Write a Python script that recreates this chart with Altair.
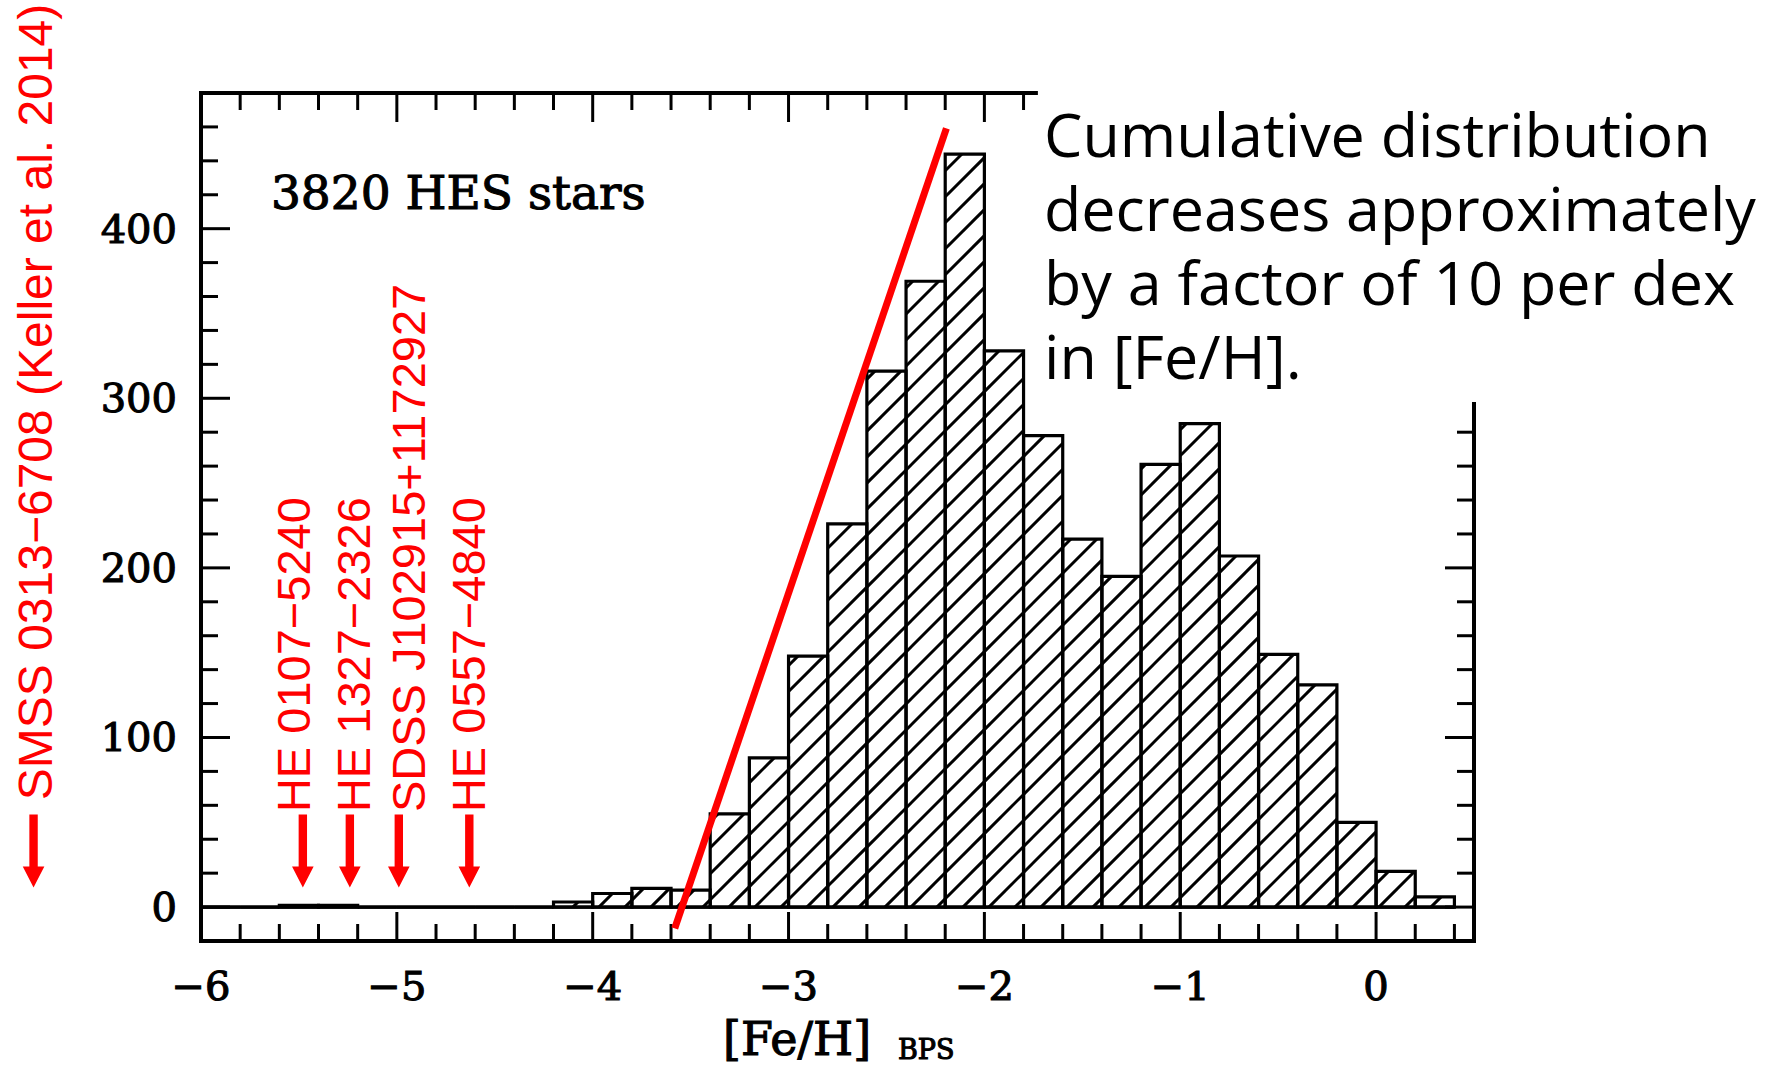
import math
import altair as alt
import pandas as pd

# ---------------------------------------------------------------------------
# Metallicity distribution of 3820 HES stars, 0.2 dex bins in [Fe/H]_BPS
# ---------------------------------------------------------------------------
bin_left = [-6.0, -5.8, -5.6, -5.4, -5.2, -5.0, -4.8, -4.6, -4.4, -4.2,
            -4.0, -3.8, -3.6, -3.4, -3.2, -3.0, -2.8, -2.6, -2.4, -2.2,
            -2.0, -1.8, -1.6, -1.4, -1.2, -1.0, -0.8, -0.6, -0.4, -0.2,
            0.0, 0.2]
counts = [0, 0, 1, 1, 0, 0, 0, 0, 0, 3,
          8, 11, 10, 55, 88, 148, 226, 316, 369, 444,
          328, 278, 217, 195, 261, 285, 207, 149, 131, 50,
          21, 6]
BIN_WIDTH = 0.2

# most iron-poor stars known, marked by arrows
star_names = ["SMSS 0313\u22126708 (Keller et al. 2014)", "HE 0107\u22125240",
              "HE 1327\u22122326", "SDSS J102915+1172927", "HE 0557\u22124840"]
star_feh = [-6.855, -5.48, -5.24, -4.99, -4.63]
label_x = [-6.761, -5.443, -5.137, -4.856, -4.550]
label_y = [63, 56, 56, 56, 56]
label_size = [48, 47, 47, 47, 47]
ARROW_Y = 33

# slope of the metal-poor tail
slope_x = [-3.581, -2.194]
slope_y = [-12.5, 459.2]

note_lines = ["Cumulative distribution", "decreases approximately",
              "by a factor of 10 per dex", "in [Fe/H]."]

x_labels = [-6, -5, -4, -3, -2, -1, 0]
y_labels = [0, 100, 200, 300, 400]

# ---------------------------------------------------------------------------
# layout
# ---------------------------------------------------------------------------
W, H = 1273, 848
X0, X1 = -6.0, 0.5
Y0, Y1 = -20.0, 480.0
PX_X = W / (X1 - X0)
PX_Y = H / (Y1 - Y0)
TOP_END = -1.737      # top frame stops where the note begins
RIGHT_END = 296.6     # right frame starts below the note
MAJ, MIN = 29, 17     # tick lengths in px
HATCH = 26            # vertical spacing of the hatching in px

SERIF = "DejaVu Serif"
SERIF_STROKE = 1.1    # thickens the serif lettering a little
SANS = "Liberation Sans"
NOTE_FONT = "Open Sans"
RED = "#ff0000"

xs = alt.Scale(domain=[X0, X1], nice=False, zero=False)
ys = alt.Scale(domain=[Y0, Y1], nice=False, zero=False)


def X(field):
    return alt.X(field, scale=xs, axis=None)


def Y(field):
    return alt.Y(field, scale=ys, axis=None)


# ---------------------------------------------------------------------------
# hatching: 45 degree lines on a common lattice, clipped to every bar
# ---------------------------------------------------------------------------
hatch = []
for lo, n in zip(bin_left, counts):
    if n <= 0:
        continue
    ax = (lo - X0) * PX_X
    bx = (lo + BIN_WIDTH - X0) * PX_X
    ay = (0 - Y0) * PX_Y
    by = (n - Y0) * PX_Y
    kmin = math.floor((ay - bx) / HATCH)
    kmax = math.ceil((by - ax) / HATCH)
    for k in range(kmin, kmax + 1):
        c = k * HATCH
        s = max(ax, ay - c)
        e = min(bx, by - c)
        if e - s > 0.8:
            hatch.append({"x": X0 + s / PX_X, "y": Y0 + (s + c) / PX_Y,
                          "x2": X0 + e / PX_X, "y2": Y0 + (e + c) / PX_Y})
hatch_df = pd.DataFrame(hatch)

bars_df = pd.DataFrame({"lo": bin_left,
                        "hi": [b + BIN_WIDTH for b in bin_left],
                        "base": [0] * len(counts),
                        "n": counts})

hatch_layer = alt.Chart(hatch_df).mark_rule(color="black", strokeWidth=3).encode(
    x=X("x:Q"), y=Y("y:Q"), x2="x2:Q", y2="y2:Q")

bar_layer = alt.Chart(bars_df).mark_rect(
    fillOpacity=0, stroke="black", strokeWidth=3.2
).encode(x=X("lo:Q"), x2="hi:Q", y=Y("base:Q"), y2="n:Q")

zero_layer = alt.Chart(pd.DataFrame({"a": [X0], "b": [bin_left[-1] + BIN_WIDTH], "y": [0]})).mark_rule(
    color="black", strokeWidth=3.2
).encode(x=X("a:Q"), x2="b:Q", y=Y("y:Q"))

# ---------------------------------------------------------------------------
# frame, inward ticks and tick labels
# ---------------------------------------------------------------------------
frame_df = pd.DataFrame({
    "x": [X0, X0, X0, X1], "x2": [X0, X1, TOP_END, X1],
    "y": [Y0, Y0, Y1, Y0], "y2": [Y1, Y0, Y1, RIGHT_END]})
frame_layer = alt.Chart(frame_df).mark_rule(
    color="black", strokeWidth=4, strokeCap="square"
).encode(x=X("x:Q"), x2="x2:Q", y=Y("y:Q"), y2="y2:Q")

xt = [round(-6 + 0.2 * i, 1) for i in range(1, 33)]
yt = [20 * i for i in range(0, 24)]
x_tick_df = pd.DataFrame({"v": xt, "major": [abs(v - round(v)) < 1e-9 for v in xt]})
y_tick_df = pd.DataFrame({"v": yt, "major": [v % 100 == 0 for v in yt]})


def xticks(df, y_from, y_to):
    return alt.Chart(df).mark_rule(color="black", strokeWidth=3).encode(
        x=X("v:Q"), y=alt.value(y_from), y2=alt.value(y_to))


def yticks(df, x_from, x_to):
    return alt.Chart(df).mark_rule(color="black", strokeWidth=3).encode(
        y=Y("v:Q"), x=alt.value(x_from), x2=alt.value(x_to))


bx_maj = x_tick_df[x_tick_df.major]
bx_min = x_tick_df[~x_tick_df.major]
tx_maj = bx_maj[bx_maj.v < TOP_END]
tx_min = bx_min[bx_min.v < TOP_END]
ly_maj = y_tick_df[y_tick_df.major]
ly_min = y_tick_df[~y_tick_df.major]
ry_maj = ly_maj[ly_maj.v < RIGHT_END]
ry_min = ly_min[ly_min.v < RIGHT_END]

tick_layers = [
    xticks(bx_maj, H, H - MAJ), xticks(bx_min, H, H - MIN),
    xticks(tx_maj, 0, MAJ), xticks(tx_min, 0, MIN),
    yticks(ly_maj, 0, MAJ), yticks(ly_min, 0, MIN),
    yticks(ry_maj, W, W - MAJ), yticks(ry_min, W, W - MIN),
]

x_lab_df = pd.DataFrame({"v": x_labels, "t": [str(v).replace("-", "\u2212") for v in x_labels]})
x_lab_layer = alt.Chart(x_lab_df).mark_text(
    align="center", baseline="alphabetic", font=SERIF, fontSize=40, color="black",
    stroke="black", strokeWidth=SERIF_STROKE
).encode(x=X("v:Q"), y=alt.value(H + 59), text="t:N")

y_lab_df = pd.DataFrame({"v": y_labels, "t": [str(v) for v in y_labels]})
y_lab_layer = alt.Chart(y_lab_df).mark_text(
    align="right", baseline="alphabetic", dy=14, font=SERIF, fontSize=40, color="black",
    stroke="black", strokeWidth=SERIF_STROKE
).encode(y=Y("v:Q"), x=alt.value(-24), text="t:N")

# ---------------------------------------------------------------------------
# red annotations
# ---------------------------------------------------------------------------
slope_layer = alt.Chart(pd.DataFrame({"x": slope_x, "y": slope_y})).mark_line(
    color=RED, strokeWidth=7, strokeCap="butt"
).encode(x=X("x:Q"), y=Y("y:Q"))

ARROW = "M-0.115,-1L0.115,-1L0.115,0.42L0.296,0.42L0,1L-0.296,0.42L-0.115,0.42Z"
arrow_layer = alt.Chart(pd.DataFrame({"x": star_feh, "y": [ARROW_Y] * len(star_feh)})).mark_point(
    shape=ARROW, filled=True, size=73 * 73, color=RED, opacity=1, strokeWidth=0
).encode(x=X("x:Q"), y=Y("y:Q"))

star_df = pd.DataFrame({"name": star_names, "x": label_x, "y": label_y, "fs": label_size})
star_label_layer = alt.Chart(star_df).mark_text(
    angle=270, align="left", baseline="alphabetic", font=SANS, color=RED
).encode(x=X("x:Q"), y=Y("y:Q"), text="name:N",
         size=alt.Size("fs:Q", scale=None, legend=None))

# ---------------------------------------------------------------------------
# black texts
# ---------------------------------------------------------------------------
sample_layer = alt.Chart(pd.DataFrame({"x": [-5.643], "y": [411.6], "t": ["3820 HES stars"]})).mark_text(
    align="left", baseline="alphabetic", font=SERIF, fontSize=47, color="black",
    stroke="black", strokeWidth=SERIF_STROKE
).encode(x=X("x:Q"), y=Y("y:Q"), text="t:N")

# four-line note, drawn as one multi-line text
note_layer = alt.Chart(pd.DataFrame({"px": [843], "py": [64]})).mark_text(
    text=note_lines, lineHeight=74,
    align="left", baseline="alphabetic", font=NOTE_FONT, fontSize=61, color="black"
).encode(x=alt.X("px:Q", scale=None), y=alt.Y("py:Q", scale=None))

title_df = pd.DataFrame({"t": ["[Fe/H]", "BPS"], "px": [522, 697], "py": [962, 966], "fs": [46, 27]})
title_layer = alt.Chart(title_df).mark_text(
    align="left", baseline="alphabetic", font=SERIF, color="black",
    stroke="black", strokeWidth=SERIF_STROKE
).encode(x=alt.X("px:Q", scale=None), y=alt.Y("py:Q", scale=None), text="t:N",
         size=alt.Size("fs:Q", scale=None, legend=None))

chart = alt.layer(
    hatch_layer, zero_layer, bar_layer, *tick_layers, frame_layer,
    x_lab_layer, y_lab_layer,
    slope_layer, arrow_layer, star_label_layer, sample_layer, note_layer, title_layer
).properties(
    width=W, height=H,
    autosize=alt.AutoSizeParams(type="none"),
    padding={"left": 201, "top": 93, "right": 1771 - 201 - W, "bottom": 1067 - 93 - H},
    background="white",
).configure_view(stroke=None)

chart.save("out.html", embed_options={"renderer": "svg", "actions": False})
